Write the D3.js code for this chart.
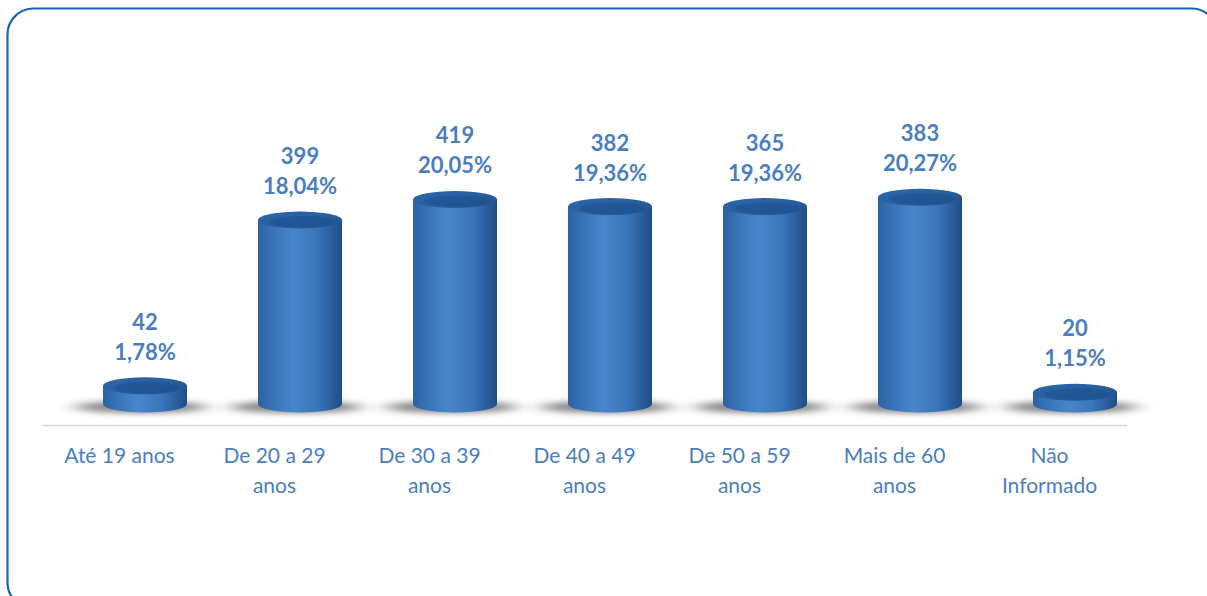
<!DOCTYPE html>
<html>
<head>
<meta charset="utf-8">
<script src="https://cdn.jsdelivr.net/npm/d3@7"></script>
<style>
  body { margin: 0; background: #fff; }
  svg { display: block; }
</style>
</head>
<body>
<div id="app"></div>
<script>
'use strict'

// Faixas etárias, quantidades e percentuais
const categories = ['Até 19 anos', 'De 20 a 29 anos', 'De 30 a 39 anos', 'De 40 a 49 anos',
  'De 50 a 59 anos', 'Mais de 60 anos', 'Não Informado']
const counts = [42, 399, 419, 382, 365, 383, 20]
const percents = [1.78, 18.04, 20.05, 19.36, 19.36, 20.27, 1.15]
const percentLabels = ['1,78%', '18,04%', '20,05%', '19,36%', '19,36%', '20,27%', '1,15%']

const data = categories.map((c, i) => ({
  cat: c, count: counts[i], pct: percents[i], pctLabel: percentLabels[i]
}))

const W = 1207, H = 596
const base = 404
const barW = 84
const ry = 8.5
const labelBlue = '#4a7ebf'

const svg = d3.select('#app').append('svg')
  .attr('width', W)
  .attr('height', H)

const defs = svg.append('defs')

const bodyGrad = defs.append('linearGradient').attr('id', 'body')
  .attr('x1', 0).attr('x2', 1).attr('y1', 0).attr('y2', 0)
;[[0, '#2c61a4'], [0.15, '#3671b6'], [0.42, '#4886cb'], [0.7, '#3b75ba'], [1, '#1f4d88']]
  .forEach(s => bodyGrad.append('stop').attr('offset', s[0]).attr('stop-color', s[1]))

const topGrad = defs.append('linearGradient').attr('id', 'top')
  .attr('x1', 0).attr('x2', 1).attr('y1', 0).attr('y2', 1)
;[[0, '#2e68ad'], [1, '#20548f']]
  .forEach(s => topGrad.append('stop').attr('offset', s[0]).attr('stop-color', s[1]))

defs.append('filter').attr('id', 'blur')
  .attr('x', '-50%').attr('y', '-200%').attr('width', '200%').attr('height', '500%')
  .append('feGaussianBlur').attr('stdDeviation', '10 3')

// Moldura arredondada
svg.append('rect')
  .attr('x', 7.5).attr('y', 8.5)
  .attr('width', 1210).attr('height', 600)
  .attr('rx', 26).attr('ry', 26)
  .attr('fill', 'none')
  .attr('stroke', '#1565b3')
  .attr('stroke-width', 2.2)

const x = d3.scalePoint()
  .domain(categories)
  .range([67.5, 1152.5])
  .padding(0.5)

const y = d3.scaleLinear()
  .domain([0, 25])
  .range([base, base - 255])

/*
 * Eixo (piso) deslocado para a frente, como no gráfico 3D
 */
const axis = svg.append('g')
  .attr('transform', 'translate(-26, 425)')
  .call(d3.axisBottom(x).tickSize(0).tickPadding(0).tickFormat(''))

axis.select('.domain').attr('stroke', '#d9d9d9').attr('stroke-width', 1.5)
axis.selectAll('.tick text').remove()

const wrap = (text, width) => {
  const words = text.split(' ')
  const lines = []
  let line = []
  const probe = svg.append('text').style('font', '21px Lato')
  words.forEach(w => {
    line.push(w)
    probe.text(line.join(' '))
    if (probe.node().getComputedTextLength() > width && line.length > 1) {
      line.pop()
      lines.push(line.join(' '))
      line = [w]
    }
  })
  lines.push(line.join(' '))
  probe.remove()
  return lines
}

axis.selectAll('.tick').each(function (d) {
  const t = d3.select(this).append('text')
    .attr('y', 38)
    .attr('text-anchor', 'middle')
    .attr('fill', labelBlue)
    .style('font', '21px Lato')
  wrap(d, 128).forEach((l, i) => {
    t.append('tspan').attr('x', 0).attr('dy', i ? 30 : 0).text(l)
  })
})

/*
 * Cilindros
 */
const bars = svg.selectAll('.bar')
  .data(data)
  .enter().append('g')
  .attr('class', 'bar')
  .attr('transform', d => `translate(${x(d.cat)}, 0)`)

bars.append('ellipse')
  .attr('cx', -4).attr('cy', base + 3)
  .attr('rx', 66).attr('ry', 6)
  .attr('fill', '#333')
  .attr('opacity', 0.6)
  .attr('filter', 'url(#blur)')

bars.append('ellipse')
  .attr('cx', 0).attr('cy', base)
  .attr('rx', barW / 2).attr('ry', ry)
  .attr('fill', 'url(#body)')

bars.append('rect')
  .attr('x', -barW / 2)
  .attr('y', d => y(d.pct))
  .attr('width', barW)
  .attr('height', d => base - y(d.pct))
  .attr('fill', 'url(#body)')

bars.append('ellipse')
  .attr('cx', 0).attr('cy', d => y(d.pct))
  .attr('rx', barW / 2).attr('ry', ry)
  .attr('fill', 'url(#top)')

bars.append('ellipse')
  .attr('cx', 2).attr('cy', d => y(d.pct) + 1.5)
  .attr('rx', barW / 2 - 9).attr('ry', ry - 3)
  .attr('fill', '#1a4a86')
  .attr('opacity', 0.35)

/*
 * Rótulos: quantidade e percentual
 */
const labels = bars.append('text')
  .attr('text-anchor', 'middle')
  .attr('fill', labelBlue)
  .style('font', 'bold 22px Lato')

labels.append('tspan')
  .attr('x', 0)
  .attr('y', d => y(d.pct) - 56)
  .text(d => d.count)

labels.append('tspan')
  .attr('x', 0)
  .attr('y', d => y(d.pct) - 26)
  .text(d => d.pctLabel)
</script>
</body>
</html>
